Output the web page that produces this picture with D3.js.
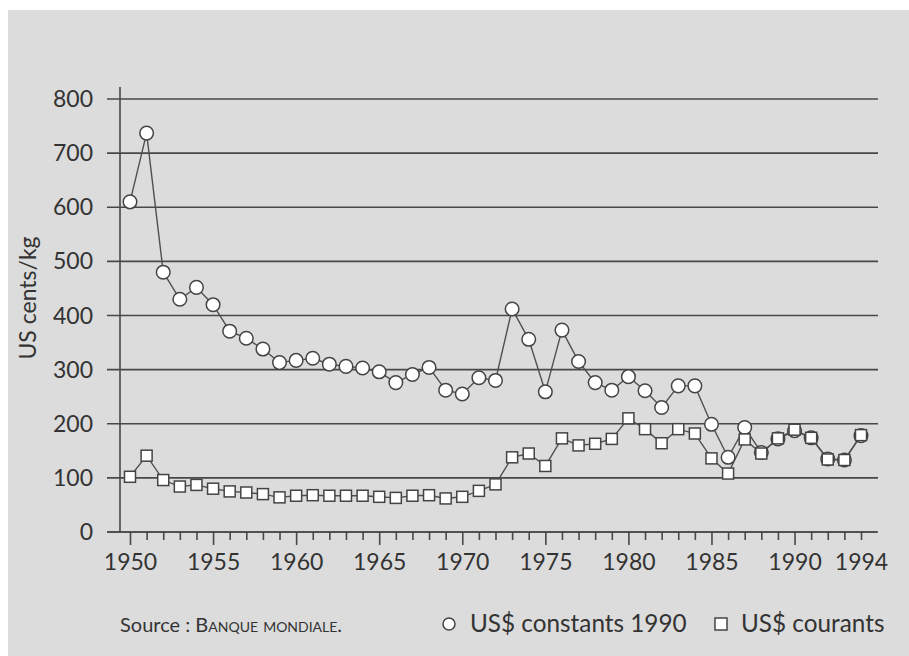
<!doctype html>
<html>
  <head>
    <title>Prix US cents/kg</title>
    <script src="https://cdnjs.cloudflare.com/ajax/libs/d3/7.8.5/d3.min.js"></script>
    <style>
      body { margin: 0; background: #fff; }
      svg { display: block; }
      text { font-family: Lato, "Open Sans", sans-serif; fill: #333; }
      line.grid { stroke: #484848; stroke-width: 1.6; }
      path.serie { fill: none; stroke: #505050; stroke-width: 1.4; }
      .mark { fill: #fff; stroke: #444; stroke-width: 1.5; }
      .axis path, .axis line { stroke: #484848; stroke-width: 1.6; }
    </style>
  </head>
  <body>
    <svg width="909" height="656"></svg>
    <script>
      // years 1950 - 1994
      var years = [1950, 1951, 1952, 1953, 1954, 1955, 1956, 1957, 1958, 1959,
                   1960, 1961, 1962, 1963, 1964, 1965, 1966, 1967, 1968, 1969,
                   1970, 1971, 1972, 1973, 1974, 1975, 1976, 1977, 1978, 1979,
                   1980, 1981, 1982, 1983, 1984, 1985, 1986, 1987, 1988, 1989,
                   1990, 1991, 1992, 1993, 1994];
      var constants1990 = [610, 737, 480, 430, 452, 420, 371, 358, 338, 313,
                           317, 321, 310, 306, 303, 296, 276, 291, 304, 262,
                           255, 285, 280, 412, 356, 259, 373, 315, 276, 262,
                           287, 261, 230, 270, 270, 199, 138, 193, 147, 172,
                           187, 174, 135, 133, 178];
      var courants = [102, 141, 96, 84, 87, 80, 75, 73, 70, 64,
                      67, 68, 67, 67, 67, 65, 63, 67, 68, 62,
                      65, 76, 88, 138, 145, 122, 173, 160, 163, 172,
                      210, 190, 164, 190, 182, 136, 108, 171, 145, 173,
                      189, 174, 134, 133, 179];
      var yTicks = [0, 100, 200, 300, 400, 500, 600, 700, 800];
      var xLabels = [1950, 1955, 1960, 1965, 1970, 1975, 1980, 1985, 1990, 1994];

      var svg = d3.select("svg");

      svg.append("rect")
        .attr("x", 8).attr("y", 10)
        .attr("width", 901).attr("height", 646)
        .attr("fill", "#dcdcdc");

      var x = d3.scaleLinear().domain([1950, 1994]).range([130, 861]);
      var y = d3.scaleLinear().domain([0, 800]).range([532, 99]);

      // horizontal grid, starting a bit left of the axis like ticks
      svg.selectAll("line.grid").data(yTicks)
        .enter()
        .append("line")
          .attr("class", "grid")
          .attr("x1", 107).attr("x2", 878)
          .attr("y1", d => y(d)).attr("y2", d => y(d));

      svg.selectAll("text.ylab").data(yTicks)
        .enter()
        .append("text")
          .attr("class", "ylab")
          .attr("x", 93)
          .attr("y", d => y(d) + 8)
          .attr("text-anchor", "end")
          .attr("font-size", 23)
          .text(d => d);

      // vertical axis
      svg.append("line")
        .attr("x1", 120).attr("x2", 120)
        .attr("y1", 87).attr("y2", 532)
        .attr("stroke", "#484848").attr("stroke-width", 1.6);

      // x axis: tick each year, long ticks every 5 years
      var xAxis = d3.axisBottom(x)
        .tickValues(years)
        .tickSize(8)
        .tickSizeOuter(0)
        .tickFormat(d => xLabels.indexOf(d) >= 0 ? d : "");

      var gx = svg.append("g")
        .attr("class", "axis")
        .attr("transform", "translate(0,532)")
        .call(xAxis);
      gx.select(".domain").attr("d", "M107,0H877");
      gx.selectAll(".tick line")
        .attr("y2", d => (d % 5 == 0) ? 13 : 8);
      gx.selectAll(".tick text")
        .attr("y", 22)
        .attr("font-family", "Lato, sans-serif")
        .attr("font-size", 23)
        .attr("fill", "#333");

      svg.append("text")
        .attr("transform", "translate(36,298) rotate(-90)")
        .attr("text-anchor", "middle")
        .attr("font-size", 23)
        .text("US cents/kg");

      var line = d3.line()
        .x((d, i) => x(years[i]))
        .y(d => y(d));

      svg.append("path").datum(constants1990)
        .attr("class", "serie")
        .attr("d", line);
      svg.append("path").datum(courants)
        .attr("class", "serie")
        .attr("d", line);

      svg.selectAll("circle.c1990").data(constants1990)
        .enter()
        .append("circle")
          .attr("class", "mark c1990")
          .attr("r", 6.8)
          .attr("cx", (d, i) => x(years[i]))
          .attr("cy", d => y(d));

      var s = 11;
      svg.selectAll("rect.cour").data(courants)
        .enter()
        .append("rect")
          .attr("class", "mark cour")
          .attr("width", s).attr("height", s)
          .attr("x", (d, i) => x(years[i]) - s / 2)
          .attr("y", d => y(d) - s / 2);

      // source + legend
      var src = svg.append("text")
        .attr("x", 120).attr("y", 632)
        .attr("font-size", 20);
      src.append("tspan").text("Source : ");
      src.append("tspan").attr("font-variant", "small-caps").text("Banque mondiale.");

      svg.append("circle")
        .attr("class", "mark")
        .attr("cx", 449).attr("cy", 624).attr("r", 6);
      svg.append("text")
        .attr("x", 470).attr("y", 632)
        .attr("font-size", 24.3)
        .text("US$ constants 1990");

      svg.append("rect")
        .attr("class", "mark")
        .attr("x", 715).attr("y", 618).attr("width", 12).attr("height", 12);
      svg.append("text")
        .attr("x", 741).attr("y", 632)
        .attr("font-size", 24.3)
        .text("US$ courants");
    </script>
  </body>
</html>
